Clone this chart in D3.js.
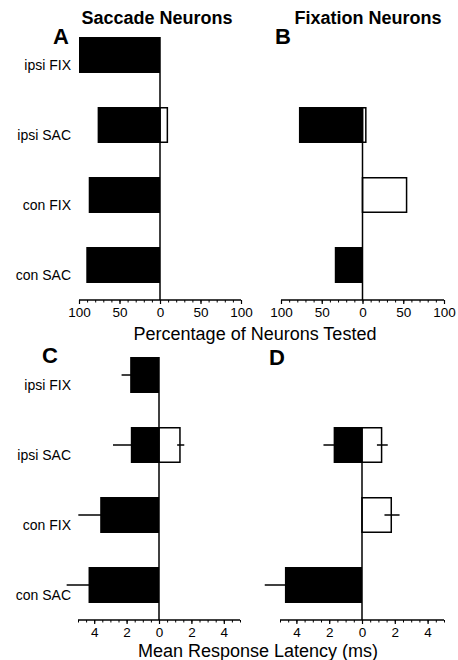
<!DOCTYPE html>
<html lang="en">
<head>
<meta charset="UTF-8">
<title>Saccade and Fixation Neurons</title>
<style>
  body { margin: 0; background: #fff; }
  svg text { font-family: "Liberation Sans", Arial, Helvetica, sans-serif; fill: #000; }
</style>
</head>
<body>
<script src="https://cdnjs.cloudflare.com/ajax/libs/d3/7.8.5/d3.min.js"></script>
<script>
'use strict';
// categories (rows, top to bottom)
const categories = ["ipsi FIX", "ipsi SAC", "con FIX", "con SAC"];

// A / B : percentage of neurons tested (left = filled, right = open)
const pctSacLeft  = [100, 77, 88, 91];
const pctSacRight = [0, 10, 0, 0];
const pctFixLeft  = [0, 78, 0, 34];
const pctFixRight = [0, 5, 55, 0];

// C / D : mean response latency (ms) with error
const latSacLeft     = [1.78, 1.74, 3.63, 4.35];
const latSacLeftErr  = [0.53, 1.1, 1.35, 1.35];
const latSacRight    = [0, 1.34, 0, 0];
const latSacRightErr = [0, 0.22, 0, 0];
const latFixLeft     = [0, 1.73, 0, 4.7];
const latFixLeftErr  = [0, 0.62, 0, 1.23];
const latFixRight    = [0, 1.24, 1.83, 0];
const latFixRightErr = [0, 0.33, 0.46, 0];

const pctTicks = [-100, -50, 0, 50, 100];
const latTicks = [-4, -2, 0, 2, 4];

const svg = d3.select("body").append("svg")
  .attr("width", 458)
  .attr("height", 660);

function panel(opts) {
  const g = svg.append("g");
  const x = d3.scaleLinear().domain(opts.domain).range(opts.xRange);
  const y = d3.scaleBand().domain(categories).range(opts.yRange)
    .paddingInner(0.486).paddingOuter(0.243);
  const axisY = opts.yRange[1];

  const rows = categories.map((c, i) => ({
    cat: c,
    left: opts.left[i], right: opts.right[i],
    leftErr: opts.leftErr ? opts.leftErr[i] : 0,
    rightErr: opts.rightErr ? opts.rightErr[i] : 0
  }));

  // error bars behind filled bars
  g.selectAll("line.errL").data(rows.filter(d => d.left > 0 && d.leftErr > 0))
    .enter().append("line")
    .attr("x1", d => x(-d.left - d.leftErr))
    .attr("x2", d => x(-d.left + d.leftErr))
    .attr("y1", d => y(d.cat) + y.bandwidth() / 2)
    .attr("y2", d => y(d.cat) + y.bandwidth() / 2)
    .attr("stroke", "#000").attr("stroke-width", 1.5);

  g.selectAll("rect.left").data(rows.filter(d => d.left > 0))
    .enter().append("rect")
    .attr("x", d => x(-d.left))
    .attr("y", d => y(d.cat))
    .attr("width", d => x(0) - x(-d.left))
    .attr("height", y.bandwidth())
    .attr("fill", "#000");

  g.selectAll("rect.right").data(rows.filter(d => d.right > 0))
    .enter().append("rect")
    .attr("x", x(0))
    .attr("y", d => y(d.cat) + 0.75)
    .attr("width", d => x(d.right) - x(0) - 0.75)
    .attr("height", y.bandwidth() - 1.5)
    .attr("fill", "#fff")
    .attr("stroke", "#000").attr("stroke-width", 1.5);

  g.selectAll("line.errR").data(rows.filter(d => d.right > 0 && d.rightErr > 0))
    .enter().append("line")
    .attr("x1", d => x(d.right - d.rightErr))
    .attr("x2", d => x(d.right + d.rightErr))
    .attr("y1", d => y(d.cat) + y.bandwidth() / 2)
    .attr("y2", d => y(d.cat) + y.bandwidth() / 2)
    .attr("stroke", "#000").attr("stroke-width", 1.5);

  // zero line from first non-empty row down to axis
  const first = rows.find(d => d.left > 0 || d.right > 0);
  g.append("line")
    .attr("x1", x(0)).attr("x2", x(0))
    .attr("y1", y(first.cat)).attr("y2", axisY)
    .attr("stroke", "#000").attr("stroke-width", 1.5);

  // axis: minor ticks, major ticks, labels
  const axis = d3.axisBottom(x)
    .tickValues(opts.minor)
    .tickSize(2.5)
    .tickFormat("");
  const ax = g.append("g").attr("transform", `translate(0,${axisY})`).call(axis);
  ax.select(".domain").attr("stroke-width", 1.5).attr("d", `M${x(opts.domain[0])},0H${x(opts.domain[1])}`);
  ax.selectAll(".tick line").attr("stroke-width", 1);

  const axMajor = d3.axisBottom(x)
    .tickValues(opts.ticks)
    .tickSize(4)
    .tickPadding(3)
    .tickFormat(d => Math.abs(d));
  const am = g.append("g").attr("transform", `translate(0,${axisY})`).call(axMajor);
  am.select(".domain").remove();
  am.selectAll(".tick line").attr("stroke-width", 1.2);
  am.selectAll(".tick text")
    .style("font-family", '"Liberation Sans", Arial, sans-serif')
    .style("font-size", "13.5px").attr("fill", "#000");

  if (opts.showCats) {
    g.selectAll("text.cat").data(categories).enter().append("text")
      .attr("x", 71)
      .attr("y", d => y(d) + y.bandwidth() / 2 + 15)
      .attr("text-anchor", "end")
      .style("font-size", "14px")
      .text(d => d);
  }
}

const pctMinor = d3.range(-100, 101, 10);
const latMinor = d3.range(-5, 5.01, 0.5);

panel({ domain: [-100, 100], xRange: [79, 241], yRange: [20, 300],
  left: pctSacLeft, right: pctSacRight, ticks: pctTicks, minor: pctMinor, showCats: true });
panel({ domain: [-100, 100], xRange: [281, 444], yRange: [20, 300],
  left: pctFixLeft, right: pctFixRight, ticks: pctTicks, minor: pctMinor, showCats: false });
panel({ domain: [-5, 5], xRange: [78, 240], yRange: [340, 620],
  left: latSacLeft, right: latSacRight, leftErr: latSacLeftErr, rightErr: latSacRightErr,
  ticks: latTicks, minor: latMinor, showCats: true });
panel({ domain: [-5, 5], xRange: [280, 444], yRange: [340, 620],
  left: latFixLeft, right: latFixRight, leftErr: latFixLeftErr, rightErr: latFixRightErr,
  ticks: latTicks, minor: latMinor, showCats: false });

// titles
svg.append("text").attr("x", 157).attr("y", 24).attr("text-anchor", "middle")
  .style("font-weight", "bold").style("font-size", "18px").text("Saccade Neurons");
svg.append("text").attr("x", 368).attr("y", 24).attr("text-anchor", "middle")
  .style("font-weight", "bold").style("font-size", "18px").text("Fixation Neurons");

// panel letters
const letters = [["A", 53, 44], ["B", 275, 44], ["C", 42, 363], ["D", 269, 365]];
svg.selectAll("text.letter").data(letters).enter().append("text")
  .attr("x", d => d[1]).attr("y", d => d[2])
  .style("font-weight", "bold").style("font-size", "22px")
  .text(d => d[0]);

// axis titles
svg.append("text").attr("x", 255).attr("y", 340).attr("text-anchor", "middle")
  .style("font-size", "18px").text("Percentage of Neurons Tested");
svg.append("text").attr("x", 258).attr("y", 657).attr("text-anchor", "middle")
  .style("font-size", "18px").text("Mean Response Latency (ms)");
</script>
</body>
</html>
